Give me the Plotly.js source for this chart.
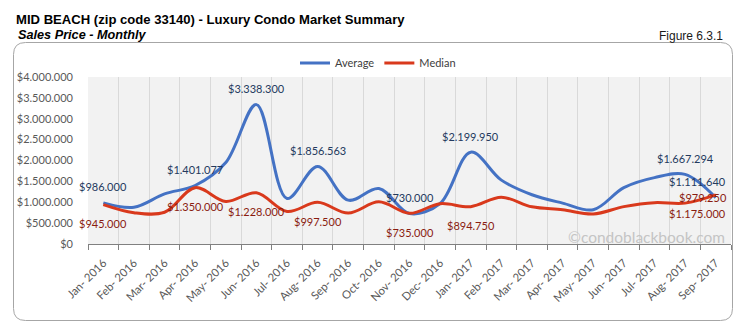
<!DOCTYPE html>
<html>
<head>
<meta charset="utf-8">
<script src="https://cdn.plot.ly/plotly-3.0.1.min.js"></script>
<style>
  html, body { margin: 0; padding: 0; background: #ffffff; }
  #chart { width: 737px; height: 328px; }
</style>
</head>
<body>
<div id="chart"></div>
<script>
// ---- data ----
const months = ["Jan- 2016","Feb- 2016","Mar- 2016","Apr- 2016","May- 2016","Jun- 2016","Jul- 2016","Aug- 2016","Sep- 2016","Oct- 2016","Nov- 2016","Dec- 2016",
                "Jan- 2017","Feb- 2017","Mar- 2017","Apr- 2017","May- 2017","Jun- 2017","Jul- 2017","Aug- 2017","Sep- 2017"];
const average = [986000, 880000, 1200000, 1401077, 1950000, 3338300, 1090000, 1856563, 1050000, 1330000, 730000, 970000,
                 2199950, 1530000, 1180000, 980000, 820000, 1350000, 1590000, 1667294, 1111640];
const median  = [945000, 750000, 760000, 1350000, 1020000, 1228000, 780000, 997500, 740000, 1010000, 735000, 965000,
                 894750, 1120000, 890000, 820000, 720000, 895000, 990000, 979250, 1175000];
const labelIdx = [0, 3, 5, 7, 10, 12, 19, 20];
const yTicks = [0, 500000, 1000000, 1500000, 2000000, 2500000, 3000000, 3500000, 4000000];

const titleText = "MID BEACH (zip code 33140) - Luxury Condo Market Summary";
const subtitleText = "Sales Price - Monthly";
const figureText = "Figure 6.3.1";
const watermark = "©condoblackbook.com";

// ---- layout geometry (pixels) ----
const W = 737, H = 328;
const mL = 88, mR = 6, mT = 77, mB = 84;
const pw = W - mL - mR, ph = H - mT - mB;
const px2x = p => (p - mL) / pw;
const px2y = p => (H - mB - p) / ph;

function fmt(v) {
  return "$" + String(Math.round(v)).replace(/\B(?=(\d{3})+(?!\d))/g, ".");
}

const blue = "#4472c4";
const red = "#d9391c";
const labelFont = "Lato, 'Open Sans', sans-serif";

const traces = [
  { x: months, y: average, name: "Average", type: "scatter", mode: "lines",
    line: { color: blue, width: 3, shape: "spline", smoothing: 1 }, hoverinfo: "skip" },
  { x: months, y: median, name: "Median", type: "scatter", mode: "lines",
    line: { color: red, width: 3, shape: "spline", smoothing: 1 }, hoverinfo: "skip" }
];

// label offsets (style)
const avgShift = { 20: [-18, 16] };
const medShift = { 19: [18, 6], 20: [-18, -19] };

const annotations = [];
labelIdx.forEach(i => {
  const sa = avgShift[i] || [0, 16];
  annotations.push({ x: months[i], y: average[i], xref: "x", yref: "y", text: fmt(average[i]),
    showarrow: false, xanchor: "center", yanchor: "middle", xshift: sa[0], yshift: sa[1],
    font: { family: labelFont, size: 11, color: "#243a5e" } });
  const sm = medShift[i] || [0, -19];
  annotations.push({ x: months[i], y: median[i], xref: "x", yref: "y", text: fmt(median[i]),
    showarrow: false, xanchor: "center", yanchor: "middle", xshift: sm[0], yshift: sm[1],
    font: { family: labelFont, size: 11, color: "#8a1c10" } });
});

annotations.push({ text: "<b><i>" + subtitleText + "</i></b>", xref: "paper", yref: "paper",
  x: px2x(16), y: px2y(35), xanchor: "left", yanchor: "middle", showarrow: false,
  font: { family: "'Liberation Sans', Arial, sans-serif", size: 12.7, color: "#000000" } });
annotations.push({ text: figureText, xref: "paper", yref: "paper",
  x: px2x(725), y: px2y(36), xanchor: "right", yanchor: "middle", showarrow: false,
  font: { family: "'Liberation Sans', Arial, sans-serif", size: 12, color: "#1a1a1a" } });
annotations.push({ text: watermark, xref: "paper", yref: "paper",
  x: px2x(727), y: px2y(237), xanchor: "right", yanchor: "middle", showarrow: false,
  font: { family: labelFont, size: 15.5, color: "#c4c4c4" } });

// rounded frame
const fl = px2x(13.5), fr = px2x(732.5), ft = px2y(42.5), fb = px2y(320.5);
const rx = 12 / pw, ry = 12 / ph;
const framePath = `M ${fl + rx},${ft} L ${fr - rx},${ft} Q ${fr},${ft} ${fr},${ft - ry} L ${fr},${fb + ry} Q ${fr},${fb} ${fr - rx},${fb} L ${fl + rx},${fb} Q ${fl},${fb} ${fl},${fb + ry} L ${fl},${ft - ry} Q ${fl},${ft} ${fl + rx},${ft} Z`;

const layout = {
  width: W, height: H,
  margin: { l: mL, r: mR, t: mT, b: mB, pad: 0 },
  paper_bgcolor: "#ffffff",
  plot_bgcolor: "#f2f2f2",
  separators: ",.",
  title: { text: "<b>" + titleText + "</b>", xref: "container", yref: "container",
    x: 16 / W, xanchor: "left", y: 1 - 19 / H, yanchor: "middle",
    font: { family: "'Liberation Sans', Arial, sans-serif", size: 13.1, color: "#000000" } },
  showlegend: true,
  legend: { orientation: "h", x: px2x(378), xanchor: "center", y: px2y(63), yanchor: "middle",
    font: { family: labelFont, size: 11, color: "#404040" }, bgcolor: "rgba(0,0,0,0)",
    itemwidth: 30, traceorder: "normal" },
  xaxis: { type: "category", tickson: "boundaries", showgrid: true, gridcolor: "#d9d9d9", gridwidth: 1,
    showline: true, linecolor: "#808080", linewidth: 1, ticks: "outside", ticklen: 5, tickcolor: "#808080",
    tickangle: -45, ticklabelstandoff: 7, tickfont: { family: labelFont, size: 11.3, color: "#595959" },
    range: [-0.5, months.length - 0.5], fixedrange: true, zeroline: false },
  yaxis: { range: [0, 4000000], tickvals: yTicks, tickformat: "$,.0f", showgrid: false, zeroline: false,
    showline: false, ticks: "", ticklabelstandoff: 14,
    tickfont: { family: labelFont, size: 11, color: "#595959" }, fixedrange: true },
  shapes: [{ type: "path", xref: "paper", yref: "paper", path: framePath,
    line: { color: "#a6a6a6", width: 1 }, fillcolor: "rgba(0,0,0,0)", layer: "above" }],
  annotations: annotations
};

Plotly.newPlot("chart", traces, layout, { displayModeBar: false, staticPlot: true });
</script>
</body>
</html>
